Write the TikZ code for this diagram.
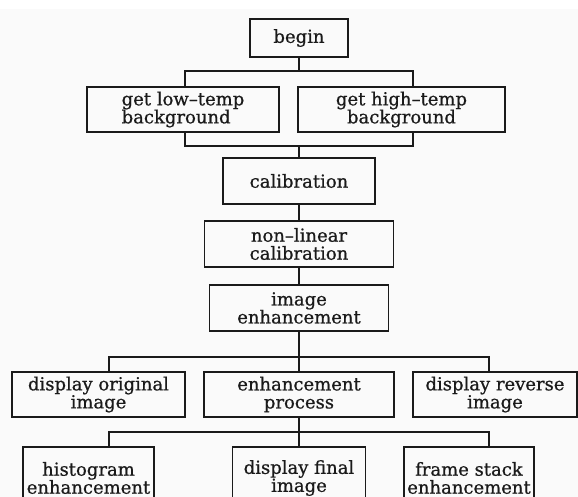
\documentclass[tikz,border=0pt]{standalone}
\usepackage{fontspec}
\setmainfont[FakeBold=0.7]{DejaVu Serif}
\definecolor{paper}{HTML}{FAFAFA}
\definecolor{ink}{HTML}{1A1A1A}
\begin{document}
\begin{tikzpicture}[x=1pt,y=-1pt,
  stepbox/.style={draw=ink, line width=1.4pt, inner sep=0pt, align=center,
    font=\fontsize{18}{18}\selectfont, text=ink},
  wire/.style={draw=ink, line width=1.4pt}]
  % canvas
  \useasboundingbox (0,0) rectangle (578,497);
  \clip (0,0) rectangle (578,497);
  \fill[white] (0,0) rectangle (578,9);
  \fill[paper] (0,9) rectangle (578,497);

  % boxes
  \node[stepbox, minimum width=98pt, minimum height=38pt] (begin) at (299,38) {begin};
  \node[stepbox, minimum width=192pt, minimum height=45pt, align=left] (low) at (183,109.5) {get low–temp\\background};
  \node[stepbox, minimum width=207pt, minimum height=45pt] (high) at (401.5,109.5) {get high–temp\\background};
  \node[stepbox, minimum width=152pt, minimum height=46pt] (calib) at (299,181) {calibration};
  \node[stepbox, minimum width=189pt, minimum height=46pt] (nonlin) at (299,244) {non–linear\\calibration};
  \node[stepbox, minimum width=179pt, minimum height=46pt] (imgenh) at (299,308) {image\\enhancement};
  \node[stepbox, minimum width=173pt, minimum height=45pt] (orig) at (98.5,394.5) {display original\\image};
  \node[stepbox, minimum width=190pt, minimum height=45pt] (proc) at (299,394.5) {enhancement\\process};
  \node[stepbox, minimum width=164pt, minimum height=45pt] (rev) at (495,394.5) {display reverse\\image};
  \node[stepbox, minimum width=131pt, minimum height=62pt] (hist) at (88.5,478) {histogram\\enhancement};
  \node[stepbox, minimum width=133pt, minimum height=62pt] (final) at (299,478) {display final\\image};
  \node[stepbox, minimum width=130pt, minimum height=62pt] (stack) at (469,478) {frame stack\\enhancement};

  % bus end points
  \coordinate (b1l) at (185,71);  \coordinate (b1r) at (413,71);
  \coordinate (b2l) at (185,146); \coordinate (b2r) at (413,146);
  \coordinate (b3l) at (109,357); \coordinate (b3r) at (489,357);
  \coordinate (b4l) at (109,432); \coordinate (b4r) at (489,432);

  % begin -> both backgrounds
  \draw[wire] (begin.south) -- (begin.south |- b1l);
  \draw[wire] (low.north -| b1l) -- (b1l) -- (b1r) -- (high.north -| b1r);
  % both backgrounds -> calibration
  \draw[wire] (low.south -| b2l) -- (b2l) -- (b2r) -- (high.south -| b2r);
  \draw[wire] (calib.north) -- (calib.north |- b2l);
  % straight chain
  \draw[wire] (calib.south) -- (nonlin.north);
  \draw[wire] (nonlin.south) -- (imgenh.north);
  % image enhancement -> three outputs
  \draw[wire] (imgenh.south) -- (proc.north);
  \draw[wire] (orig.north -| b3l) -- (b3l) -- (b3r) -- (rev.north -| b3r);
  % enhancement process -> three methods
  \draw[wire] (proc.south) -- (final.north);
  \draw[wire] (hist.north -| b4l) -- (b4l) -- (b4r) -- (stack.north -| b4r);
\end{tikzpicture}
\end{document}
